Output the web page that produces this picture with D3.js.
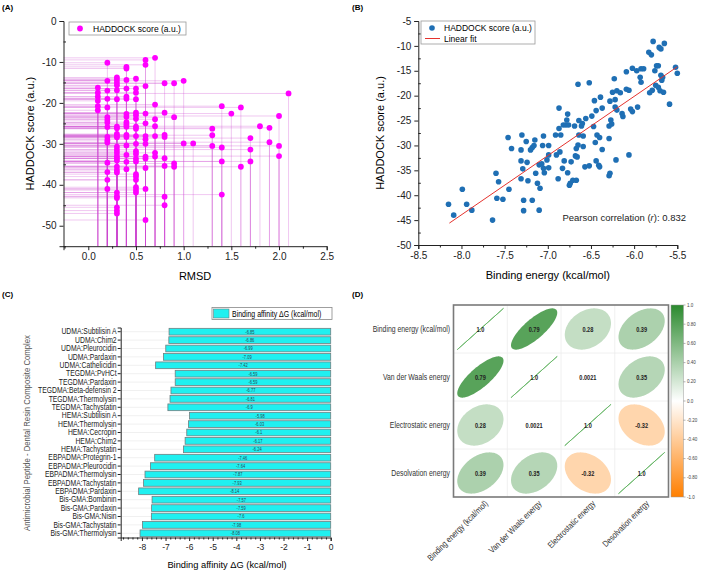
<!DOCTYPE html>
<html>
<head>
<meta charset="utf-8">
<script src="https://d3js.org/d3.v7.min.js"></script>
<style>
  body { margin: 0; background: #fff; }
  svg text { font-family: "Liberation Sans", Arial, sans-serif; }
  .axis path, .axis line { stroke: #222; }
  .axis text { fill: #222; }
</style>
</head>
<body>
<div id="figure"></div>
<script>
// Panel A: HADDOCK score grouped by RMSD
var rmsdLevels = [0.1, 0.2, 0.3, 0.4, 0.5, 0.6, 0.7, 0.8, 0.9, 1.0, 1.1, 1.3, 1.4, 1.5, 1.6, 1.7, 1.8, 1.9, 2.0, 2.1];
var scoresAtRmsd = [
    [-16.3, -17.5, -18.5, -19.5, -20.8, -21.8],
    [-10.2, -14.6, -17.0, -19.0, -21.1, -23.5, -24.2, -24.8, -25.9, -28.3, -29.1, -29.7, -34.6, -36.9, -38.8, -41.0],
    [-13.8, -14.4, -15.1, -15.7, -16.9, -19.1, -25.8, -26.2, -27.6, -28.0, -28.4, -30.7, -31.5, -32.2, -33.0, -33.5, -34.1, -35.6, -36.4, -37.0, -41.9, -42.8, -43.2, -45.5, -46.3, -47.0],
    [-11.2, -11.6, -14.4, -16.5, -18.5, -19.0, -22.7, -23.4, -24.7, -25.3, -25.8, -27.8, -28.3, -30.4, -32.7, -34.4, -36.2],
    [-14.1, -16.5, -17.5, -19.1, -22.4, -23.0, -23.9, -25.8, -26.3, -28.1, -30.0, -31.8, -32.5, -33.6, -34.3, -37.4, -38.0, -38.8, -40.6, -41.3, -41.9],
    [-9.5, -10.7, -15.9, -22.6, -25.0, -28.1, -28.9, -30.0, -33.1, -33.6, -35.9, -41.0, -48.6],
    [-9.0, -20.4, -24.0, -25.7, -28.1, -32.2, -33.1],
    [-15.2, -22.4, -27.8, -28.3, -33.5, -35.4, -42.9, -45.0],
    [-15.2, -23.5, -34.8, -35.6],
    [-14.6, -29.9],
    [-29.9],
    [-26.3, -27.9, -30.5],
    [-20.8, -30.9, -34.3, -42.4],
    [-22.6],
    [-21.1, -35.6],
    [-28.6, -31.4, -34.3],
    [-25.7],
    [-26.1, -29.6],
    [-23.2, -30.5, -33.0],
    [-17.7]
];

// Panel B: [binding energy, HADDOCK score]
var energyVsScore = [
    [-8.15,-41.8],[-8.09,-44.0],[-7.99,-38.8],[-7.94,-41.8],[-7.88,-43.0],[-7.64,-45.0],[-7.60,-35.6],[-7.59,-40.6],[-7.57,-37.3],[-7.52,-40.8],
    [-7.46,-28.4],[-7.45,-38.8],[-7.42,-30.6],[-7.30,-27.9],[-7.31,-30.9],[-7.31,-33.1],[-7.31,-36.7],[-7.29,-34.7],[-7.28,-41.0],[-7.28,-43.1],
    [-7.25,-29.2],[-7.24,-33.4],[-7.23,-37.1],[-7.20,-30.9],[-7.18,-30.4],[-7.18,-41.0],[-7.16,-30.0],[-7.15,-28.9],[-7.14,-35.6],[-7.12,-37.6],
    [-7.10,-33.9],[-7.09,-38.6],[-7.10,-43.0],[-7.07,-33.7],[-7.05,-28.1],[-7.06,-30.0],[-7.05,-34.6],[-7.04,-35.5],[-7.01,-32.9],[-6.99,-31.9],
    [-6.99,-30.0],[-6.99,-34.5],[-6.91,-27.9],[-6.90,-31.9],[-6.88,-36.7],[-6.87,-22.5],[-6.87,-26.6],[-6.85,-27.9],[-6.86,-31.3],[-6.83,-34.6],
    [-6.82,-25.9],[-6.81,-33.1],[-6.79,-25.9],[-6.78,-24.9],[-6.77,-23.7],[-6.76,-25.9],[-6.77,-35.5],[-6.75,-38.0],[-6.74,-37.6],[-6.73,-33.3],
    [-6.71,-37.0],[-6.69,-26.1],[-6.68,-32.1],[-6.67,-37.0],[-6.67,-30.6],[-6.66,-32.3],[-6.65,-29.9],[-6.65,-17.7],[-6.64,-25.0],[-6.64,-27.9],
    [-6.61,-26.1],[-6.60,-25.6],[-6.59,-28.1],[-6.59,-30.2],[-6.57,-34.3],[-6.56,-24.6],[-6.52,-17.4],[-6.52,-34.1],[-6.49,-24.1],[-6.47,-26.2],
    [-6.46,-21.0],[-6.45,-29.4],[-6.44,-23.0],[-6.44,-33.1],[-6.43,-27.9],[-6.41,-34.0],[-6.40,-28.4],[-6.40,-34.3],[-6.39,-20.3],[-6.37,-22.5],
    [-6.37,-30.8],[-6.29,-26.1],[-6.29,-28.6],[-6.29,-36.1],[-6.28,-35.6],[-6.28,-21.1],[-6.27,-24.9],[-6.26,-25.7],[-6.25,-19.3],[-6.23,-16.6],
    [-6.22,-20.8],[-6.22,-22.3],[-6.21,-32.9],[-6.20,-22.9],[-6.20,-19.0],[-6.16,-19.4],[-6.14,-23.6],[-6.13,-24.2],[-6.09,-18.7],[-6.09,-15.2],
    [-6.06,-18.9],[-6.06,-31.9],[-6.04,-22.7],[-6.02,-23.2],[-6.02,-14.5],[-5.97,-15.0],[-5.96,-22.3],[-5.93,-16.3],[-5.92,-17.3],[-5.92,-14.6],
    [-5.89,-14.6],[-5.83,-11.3],[-5.80,-11.8],[-5.82,-19.4],[-5.79,-18.9],[-5.78,-9.1],[-5.76,-15.0],[-5.75,-17.9],[-5.74,-14.0],[-5.72,-14.0],
    [-5.72,-18.3],[-5.71,-10.3],[-5.70,-19.0],[-5.69,-10.6],[-5.69,-15.9],[-5.68,-16.9],[-5.67,-16.3],[-5.66,-19.3],[-5.65,-9.5],[-5.59,-21.7],
    [-5.52,-14.3],[-5.50,-15.5]
];
var fitEnergy = [-8.14, -5.50];
var fitScore = [-45.6, -14.2];
var pearsonR = "0.832";

// Panel C: binding affinity per complex
var complexNames = [
    "UDMA:Subtilisin A", "UDMA:Chim2", "UDMA:Pleurocidin", "UDMA:Pardaxin", "UDMA:Cathelicidin",
    "TEGDMA:PvHCt", "TEGDMA:Pardaxin", "TEGDMA:Beta-defensin 2", "TEGDMA:Thermolysin", "TEGDMA:Tachystatin",
    "HEMA:Subtilisin A", "HEMA:Thermolysin", "HEMA:Cecropin", "HEMA:Chim2", "HEMA:Tachystatin",
    "EBPADMA:Protegrin-1", "EBPADMA:Pleurocidin", "EBPADMA:Thermolysin", "EBPADMA:Tachystatin", "EBPADMA:Pardaxin",
    "Bis-GMA:Bombinin", "Bis-GMA:Pardaxin", "Bis-GMA:Nisin", "Bis-GMA:Tachystatin", "Bis-GMA:Thermolysin"
];
var bindingAffinity = [
    -6.85, -6.86, -6.99, -7.09, -7.42,
    -6.59, -6.59, -6.77, -6.81, -6.9,
    -5.98, -6.03, -6.1, -6.17, -6.24,
    -7.46, -7.64, -7.87, -7.93, -8.14,
    -7.57, -7.59, -7.6, -7.98, -8.08
];

// Panel D: correlation matrix
var energyTerms = ["Binding energy (kcal/mol)", "Van der Waals energy", "Electrostatic energy", "Desolvation energy"];
var corrMatrix = [
    [1, 0.79, 0.28, 0.39],
    [0.79, 1, 0.0021, 0.35],
    [0.28, 0.0021, 1, -0.32],
    [0.39, 0.35, -0.32, 1]
];
var colorbarTicks = [1, 0.8, 0.6, 0.4, 0.2, 0, -0.2, -0.4, -0.6, -0.8, -1];
var colorbarLabels = ["1.0", "0.80", "0.60", "0.40", "0.20", "0.0", "-0.20", "-0.40", "-0.60", "-0.80", "-1.0"];

// Step 1: svg
// =================================
var svg = d3.select("#figure")
    .append("svg")
    .attr("width", 702)
    .attr("height", 572);

var panelTags = [["(A)", 2, 10], ["(B)", 352, 10], ["(C)", 2, 297], ["(D)", 352, 297]];
svg.selectAll(".tag")
    .data(panelTags)
    .enter()
    .append("text")
    .attr("class", "tag")
    .attr("x", d => d[1])
    .attr("y", d => d[2])
    .attr("font-size", "8px")
    .attr("font-weight", "bold")
    .text(d => d[0]);

function styleAxis(g, size) {
    g.attr("class", "axis");
    g.selectAll("text").attr("font-size", size);
    return g;
}

// Step 2: panel A
// =================================
var pointsA = [];
rmsdLevels.forEach((r, i) => {
    scoresAtRmsd[i].forEach(s => pointsA.push({ rmsd: r, score: s }));
});

var aX = d3.scaleLinear().domain([-0.26, 2.5]).range([63.5, 326.7]);
var aY = d3.scaleLinear().domain([-55, 0]).range([246.2, 21]);
var gA = svg.append("g");

gA.selectAll(".hdrop")
    .data(pointsA)
    .enter()
    .append("line")
    .attr("x1", aX(-0.26))
    .attr("x2", d => aX(d.rmsd))
    .attr("y1", d => aY(d.score))
    .attr("y2", d => aY(d.score))
    .attr("stroke", "#cc48d2")
    .attr("stroke-opacity", 0.3)
    .attr("stroke-width", 1);

gA.selectAll(".vdrop")
    .data(pointsA)
    .enter()
    .append("line")
    .attr("x1", d => aX(d.rmsd))
    .attr("x2", d => aX(d.rmsd))
    .attr("y1", d => aY(d.score))
    .attr("y2", aY(-55))
    .attr("stroke", "#cc48d2")
    .attr("stroke-opacity", 0.3)
    .attr("stroke-width", 1);

gA.selectAll("circle")
    .data(pointsA)
    .enter()
    .append("circle")
    .attr("cx", d => aX(d.rmsd))
    .attr("cy", d => aY(d.score))
    .attr("r", 2.9)
    .attr("fill", "#ff00ff");

styleAxis(gA.append("g")
    .attr("transform", `translate(${aX(-0.26)},0)`)
    .call(d3.axisLeft(aY).tickValues([0, -10, -20, -30, -40, -50]).tickSize(4).tickFormat(d => d)), "10px");
styleAxis(gA.append("g")
    .attr("transform", `translate(${aX(-0.26)},0)`)
    .call(d3.axisRight(aY).tickValues([-5, -15, -25, -35, -45, -55]).tickSize(2.5).tickFormat("")), "10px")
    .select(".domain").remove();
styleAxis(gA.append("g")
    .attr("transform", `translate(0,${aY(-55)})`)
    .call(d3.axisBottom(aX).tickValues([0, 0.5, 1, 1.5, 2, 2.5]).tickSize(4).tickFormat(d => d.toFixed(1))), "10px");
styleAxis(gA.append("g")
    .attr("transform", `translate(0,${aY(-55)})`)
    .call(d3.axisBottom(aX).tickValues([-0.25, 0.25, 0.75, 1.25, 1.75, 2.25]).tickSize(2.5).tickFormat("")), "10px")
    .select(".domain").remove();

gA.append("text")
    .attr("transform", `translate(34,${aY(-27.5)}) rotate(-90)`)
    .attr("text-anchor", "middle")
    .attr("font-size", "11px")
    .text("HADDOCK score (a.u.)");
gA.append("text")
    .attr("x", aX(1.12))
    .attr("y", 280)
    .attr("text-anchor", "middle")
    .attr("font-size", "11px")
    .text("RMSD");

// legend A
gA.append("rect").attr("x", 69).attr("y", 22).attr("width", 117).attr("height", 13)
    .attr("fill", "#fff").attr("stroke", "#999").attr("stroke-width", 0.8);
gA.append("circle").attr("cx", 80).attr("cy", 28.5).attr("r", 2.9).attr("fill", "#ff00ff");
gA.append("text").attr("x", 93).attr("y", 31.5).attr("font-size", "8.5px").text("HADDOCK score (a.u.)");

// Step 3: panel B
// =================================
var bX = d3.scaleLinear().domain([-8.5, -5.5]).range([418.3, 677.3]);
var bY = d3.scaleLinear().domain([-50, -5]).range([245, 21]);
var gB = svg.append("g");

gB.selectAll("circle")
    .data(energyVsScore)
    .enter()
    .append("circle")
    .attr("cx", d => bX(d[0]))
    .attr("cy", d => bY(d[1]))
    .attr("r", 2.8)
    .attr("fill", "#1f6fb4");

gB.append("line")
    .attr("x1", bX(fitEnergy[0])).attr("y1", bY(fitScore[0]))
    .attr("x2", bX(fitEnergy[1])).attr("y2", bY(fitScore[1]))
    .attr("stroke", "#e5332e")
    .attr("stroke-width", 1);

styleAxis(gB.append("g")
    .attr("transform", `translate(${bX(-8.5)},0)`)
    .call(d3.axisLeft(bY).tickValues(d3.range(-50, 0, 5)).tickSize(4).tickFormat(d => d)), "10px");
styleAxis(gB.append("g")
    .attr("transform", `translate(${bX(-8.5)},0)`)
    .call(d3.axisRight(bY).tickValues(d3.range(-47.5, -5, 5)).tickSize(2.5).tickFormat("")), "10px")
    .select(".domain").remove();
styleAxis(gB.append("g")
    .attr("transform", `translate(0,${bY(-50)})`)
    .call(d3.axisBottom(bX).tickValues(d3.range(-8.5, -5.4, 0.5)).tickSize(4).tickFormat(d => d.toFixed(1))), "10px");
styleAxis(gB.append("g")
    .attr("transform", `translate(0,${bY(-50)})`)
    .call(d3.axisBottom(bX).tickValues(d3.range(-8.25, -5.5, 0.5)).tickSize(2.5).tickFormat("")), "10px")
    .select(".domain").remove();

gB.append("text")
    .attr("transform", `translate(384,${bY(-27.5)}) rotate(-90)`)
    .attr("text-anchor", "middle")
    .attr("font-size", "11px")
    .text("HADDOCK score (a.u.)");
gB.append("text")
    .attr("x", bX(-7.0))
    .attr("y", 279)
    .attr("text-anchor", "middle")
    .attr("font-size", "11px")
    .text("Binding energy (kcal/mol)");

var pearson = gB.append("text")
    .attr("x", 686)
    .attr("y", 221)
    .attr("text-anchor", "end")
    .attr("font-size", "9.5px")
    .attr("fill", "#222");
pearson.append("tspan").text("Pearson correlation (");
pearson.append("tspan").attr("font-style", "italic").text("r");
pearson.append("tspan").text("): " + pearsonR);

// legend B
gB.append("rect").attr("x", 421).attr("y", 21).attr("width", 114).attr("height", 23)
    .attr("fill", "#fff").attr("stroke", "#999").attr("stroke-width", 0.8);
gB.append("circle").attr("cx", 432).attr("cy", 28).attr("r", 2.8).attr("fill", "#1f6fb4");
gB.append("text").attr("x", 444).attr("y", 31).attr("font-size", "8.5px").text("HADDOCK score (a.u.)");
gB.append("line").attr("x1", 425).attr("x2", 440).attr("y1", 38.5).attr("y2", 38.5)
    .attr("stroke", "#e5332e").attr("stroke-width", 1);
gB.append("text").attr("x", 444).attr("y", 41.5).attr("font-size", "8.5px").text("Linear fit");

// Step 4: panel C
// =================================
var cX = d3.scaleLinear().domain([-8.9, 0]).range([120.7, 330.7]);
var cY = d3.scaleBand().domain(complexNames).range([327.5, 537.5]).paddingInner(0.2).paddingOuter(0.1);
var gC = svg.append("g");

gC.selectAll(".grid")
    .data(complexNames)
    .enter()
    .append("line")
    .attr("x1", cX(-8.9))
    .attr("x2", cX(0))
    .attr("y1", d => cY(d) + cY.bandwidth() / 2)
    .attr("y2", d => cY(d) + cY.bandwidth() / 2)
    .attr("stroke", "#e6e6e6")
    .attr("stroke-width", 0.6);

gC.selectAll(".bar")
    .data(complexNames)
    .enter()
    .append("rect")
    .attr("x", (d, i) => cX(bindingAffinity[i]))
    .attr("y", d => cY(d))
    .attr("width", (d, i) => cX(0) - cX(bindingAffinity[i]))
    .attr("height", cY.bandwidth())
    .attr("fill", "#20f0f0")
    .attr("stroke", "#6f7f80")
    .attr("stroke-width", 0.8);

gC.selectAll(".vlabel")
    .data(complexNames)
    .enter()
    .append("text")
    .attr("transform", (d, i) => `translate(${(cX(bindingAffinity[i]) + cX(0)) / 2},${cY(d) + cY.bandwidth() / 2 + 1.8}) scale(0.8,1)`)
    .attr("text-anchor", "middle")
    .attr("font-size", "5px")
    .attr("fill", "#2a4a55")
    .text((d, i) => bindingAffinity[i]);

var cYAxis = styleAxis(gC.append("g")
    .attr("transform", `translate(${cX(-8.9)},0)`)
    .call(d3.axisLeft(cY).tickSize(3)), "8.3px");
cYAxis.selectAll("text").attr("transform", "scale(0.82,1)").attr("x", -5).attr("fill", "#222");

styleAxis(gC.append("g")
    .attr("transform", `translate(0,${cY.range()[1]})`)
    .call(d3.axisBottom(cX).tickValues(d3.range(-8, 1, 1)).tickSize(3.5).tickFormat(d => d)), "8.5px");
styleAxis(gC.append("g")
    .attr("transform", `translate(0,${cY.range()[1]})`)
    .call(d3.axisBottom(cX).tickValues(d3.range(-8.8, 0, 0.2).filter(v => Math.abs(v - Math.round(v)) > 0.05)).tickSize(2).tickFormat("")), "8px")
    .select(".domain").remove();

gC.append("text")
    .attr("x", 227)
    .attr("y", 568)
    .attr("text-anchor", "middle")
    .attr("font-size", "9.3px")
    .text("Binding affinity \u0394G (kcal/mol)");
gC.append("text")
    .attr("transform", "translate(30,433) rotate(-90)")
    .attr("text-anchor", "middle")
    .attr("font-size", "8.5px")
    .attr("fill", "#555")
    .attr("textLength", 196)
    .attr("lengthAdjust", "spacingAndGlyphs")
    .text("Antimicrobial Peptide - Dental Resin Composite Complex");

// legend C
gC.append("rect").attr("x", 212).attr("y", 307.5).attr("width", 120).attr("height", 12)
    .attr("fill", "#fff").attr("stroke", "#888").attr("stroke-width", 0.8);
gC.append("rect").attr("x", 213.5).attr("y", 309).attr("width", 15.5).attr("height", 9)
    .attr("fill", "#20f0f0").attr("stroke", "#6f7f80").attr("stroke-width", 0.6);
gC.append("text").attr("transform", "translate(232,316.5) scale(0.82,1)")
    .attr("font-size", "8.5px").text("Binding affinity \u0394G (kcal/mol)");

// Step 5: panel D
// =================================
var dX = d3.scaleBand().domain(d3.range(4)).range([453.5, 668.5]);
var dY = d3.scaleBand().domain(d3.range(4)).range([305, 497]);
var corrColor = d3.scaleLinear().domain([-1, 0, 1]).range(["#ff7f00", "#ffffff", "#2b8a2e"]);
var gD = svg.append("g");

var cells = [];
corrMatrix.forEach((row, i) => row.forEach((v, j) => cells.push({ row: i, col: j, r: v })));

// grid lines
gD.selectAll(".vgrid").data(d3.range(1, 4)).enter().append("line")
    .attr("x1", d => dX(d)).attr("x2", d => dX(d)).attr("y1", 305).attr("y2", 497)
    .attr("stroke", "#ececec").attr("stroke-width", 0.8);
gD.selectAll(".hgrid").data(d3.range(1, 4)).enter().append("line")
    .attr("y1", d => dY(d)).attr("y2", d => dY(d)).attr("x1", 453.5).attr("x2", 668.5)
    .attr("stroke", "#ececec").attr("stroke-width", 0.8);

function ellipsePath(c) {
    var cx = dX(c.col) + dX.bandwidth() / 2;
    var cy = dY(c.row) + dY.bandwidth() / 2;
    var hw = dX.bandwidth() * 0.43;
    var hh = dY.bandwidth() * 0.43;
    var delta = Math.acos(Math.max(-1, Math.min(1, c.r)));
    var pts = d3.range(0, 2 * Math.PI + 0.01, Math.PI / 60).map(t => [
        cx + Math.cos(t + delta / 2) * hw,
        cy - Math.cos(t - delta / 2) * hh
    ]);
    return d3.line()(pts);
}

gD.selectAll(".ell")
    .data(cells)
    .enter()
    .append("path")
    .attr("d", ellipsePath)
    .attr("fill", d => corrColor(d.r))
    .attr("stroke", d => Math.abs(d.r) === 1 ? "#5fb25f" : "none")
    .attr("stroke-width", 0.9);

gD.selectAll(".cval")
    .data(cells)
    .enter()
    .append("text")
    .attr("transform", d => `translate(${dX(d.col) + dX.bandwidth() / 2},${dY(d.row) + dY.bandwidth() / 2 + 2.5}) scale(0.8,1)`)
    .attr("text-anchor", "middle")
    .attr("font-size", "7px")
    .attr("font-weight", "bold")
    .attr("fill", "#222")
    .text(d => d.r === 1 ? "1.0" : String(d.r));

gD.append("rect")
    .attr("x", 453.5).attr("y", 305).attr("width", 215).attr("height", 192)
    .attr("fill", "none").attr("stroke", "#7a7a7a").attr("stroke-width", 1.6);

gD.selectAll(".rowlab")
    .data(energyTerms)
    .enter()
    .append("text")
    .attr("transform", (d, i) => `translate(450,${dY(i) + dY.bandwidth() / 2 + 2.5}) scale(0.78,1)`)
    .attr("text-anchor", "end")
    .attr("font-size", "8.8px")
    .attr("fill", "#333")
    .text(d => d);

gD.selectAll(".collab")
    .data(energyTerms)
    .enter()
    .append("text")
    .attr("transform", (d, i) => `translate(${dX(i) + dX.bandwidth() / 2 + 8},504) rotate(-45) scale(0.82,1)`)
    .attr("text-anchor", "end")
    .attr("font-size", "8.8px")
    .attr("fill", "#333")
    .text(d => d);

// colorbar
var cbY = d3.scaleLinear().domain([-1, 1]).range([497, 305]);
var grad = svg.append("defs").append("linearGradient")
    .attr("id", "cbGrad").attr("x1", 0).attr("y1", 1).attr("x2", 0).attr("y2", 0);
[-1, 0, 1].forEach(v => grad.append("stop").attr("offset", (v + 1) / 2).attr("stop-color", corrColor(v)));
gD.append("rect")
    .attr("x", 671).attr("y", 305).attr("width", 12.5).attr("height", 192)
    .attr("fill", "url(#cbGrad)").attr("stroke", "#999").attr("stroke-width", 0.5);
gD.selectAll(".cbtick")
    .data(colorbarTicks)
    .enter()
    .append("line")
    .attr("x1", 683.5).attr("x2", 685.5)
    .attr("y1", d => cbY(d)).attr("y2", d => cbY(d))
    .attr("stroke", "#666").attr("stroke-width", 0.5);
gD.selectAll(".cblab")
    .data(colorbarTicks)
    .enter()
    .append("text")
    .attr("x", 687)
    .attr("y", d => cbY(d) + 1.5)
    .attr("font-size", "4.5px")
    .attr("fill", "#444")
    .text((d, i) => colorbarLabels[i]);
</script>
</body>
</html>
